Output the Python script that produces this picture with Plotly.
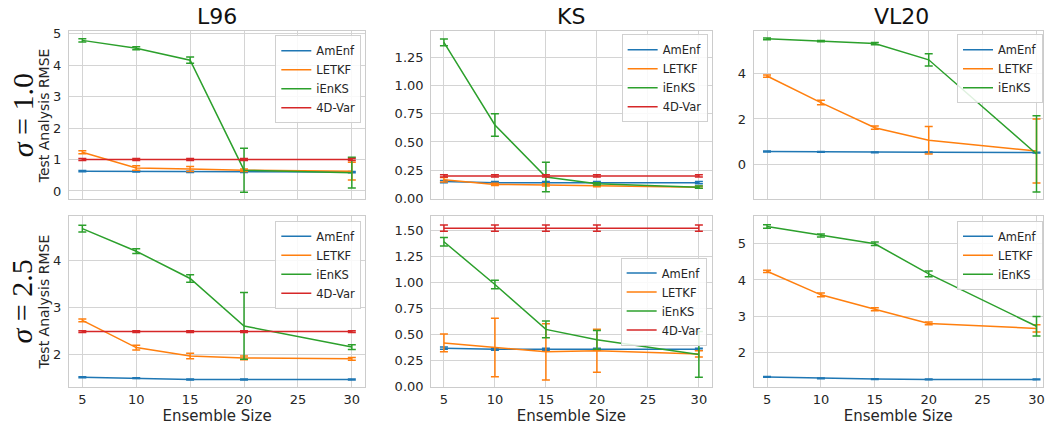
import plotly.graph_objects as go

ens = [5, 10, 15, 20, 30]
methods = ["AmEnf", "LETKF", "iEnKS", "4D-Var"]
colors = {"AmEnf": "#1f77b4", "LETKF": "#ff7f0e", "iEnKS": "#2ca02c", "4D-Var": "#d62728"}
systems = ["L96", "KS", "VL20"]
sigmas = ["1.0", "2.5"]

# ---- sigma = 1.0 ----
l96_s1_mean = {"AmEnf": [0.63, 0.62, 0.61, 0.61, 0.60],
               "LETKF": [1.23, 0.73, 0.70, 0.66, 0.63],
               "iEnKS": [4.79, 4.54, 4.16, 0.66, 0.58],
               "4D-Var": [1.00, 1.00, 1.00, 1.00, 1.00]}
l96_s1_err = {"AmEnf": [0.02, 0.02, 0.02, 0.02, 0.02],
              "LETKF": [0.05, 0.07, 0.08, 0.04, 0.28],
              "iEnKS": [0.05, 0.05, 0.10, 0.70, 0.49],
              "4D-Var": [0.03, 0.03, 0.03, 0.03, 0.03]}
ks_s1_mean = {"AmEnf": [0.15, 0.14, 0.14, 0.14, 0.14],
              "LETKF": [0.165, 0.125, 0.12, 0.115, 0.10],
              "iEnKS": [1.38, 0.65, 0.19, 0.13, 0.10],
              "4D-Var": [0.20, 0.20, 0.20, 0.20, 0.20]}
ks_s1_err = {"AmEnf": [0.01, 0.01, 0.01, 0.01, 0.01],
             "LETKF": [0.02, 0.01, 0.01, 0.01, 0.01],
             "iEnKS": [0.03, 0.10, 0.13, 0.01, 0.01],
             "4D-Var": [0.01, 0.01, 0.01, 0.01, 0.01]}
vl_s1_mean = {"AmEnf": [0.58, 0.56, 0.54, 0.54, 0.53],
              "LETKF": [3.88, 2.72, 1.62, 1.07, 0.60],
              "iEnKS": [5.51, 5.41, 5.30, 4.59, 0.47]}
vl_s1_err = {"AmEnf": [0.02, 0.02, 0.02, 0.02, 0.02],
             "LETKF": [0.05, 0.10, 0.07, 0.60, 1.40],
             "iEnKS": [0.04, 0.03, 0.05, 0.27, 1.67]}

# ---- sigma = 2.5 ----
l96_s2_mean = {"AmEnf": [1.51, 1.49, 1.46, 1.46, 1.46],
               "LETKF": [2.72, 2.14, 1.96, 1.92, 1.90],
               "iEnKS": [4.67, 4.19, 3.61, 2.60, 2.15],
               "4D-Var": [2.48, 2.48, 2.48, 2.48, 2.48]}
l96_s2_err = {"AmEnf": [0.01, 0.01, 0.01, 0.01, 0.01],
              "LETKF": [0.03, 0.05, 0.06, 0.04, 0.03],
              "iEnKS": [0.07, 0.05, 0.08, 0.71, 0.05],
              "4D-Var": [0.02, 0.02, 0.02, 0.02, 0.02]}
ks_s2_mean = {"AmEnf": [0.37, 0.36, 0.36, 0.36, 0.36],
              "LETKF": [0.42, 0.376, 0.335, 0.345, 0.314],
              "iEnKS": [1.39, 0.98, 0.55, 0.45, 0.31],
              "4D-Var": [1.52, 1.52, 1.52, 1.52, 1.52]}
ks_s2_err = {"AmEnf": [0.01, 0.01, 0.01, 0.01, 0.01],
             "LETKF": [0.085, 0.28, 0.27, 0.205, 0.03],
             "iEnKS": [0.04, 0.04, 0.08, 0.09, 0.22],
             "4D-Var": [0.03, 0.03, 0.03, 0.03, 0.03]}
vl_s2_mean = {"AmEnf": [1.32, 1.28, 1.26, 1.25, 1.25],
              "LETKF": [4.24, 3.59, 3.19, 2.80, 2.66],
              "iEnKS": [5.48, 5.23, 5.00, 4.17, 2.72]}
vl_s2_err = {"AmEnf": [0.01, 0.01, 0.01, 0.01, 0.01],
             "LETKF": [0.03, 0.05, 0.04, 0.04, 0.10],
             "iEnKS": [0.05, 0.04, 0.05, 0.08, 0.27]}

panels = [
    (l96_s1_mean, l96_s1_err), (ks_s1_mean, ks_s1_err), (vl_s1_mean, vl_s1_err),
    (l96_s2_mean, l96_s2_err), (ks_s2_mean, ks_s2_err), (vl_s2_mean, vl_s2_err),
]

W, H = 1045, 431
def px(x):
    return x / W
def py(y):
    return 1 - y / H

col_dom = [[px(69), px(366)], [px(432), px(713)], [px(755), 1.0]]
col_xrange = [[3.75, 31.25], [3.75, 31.25], [3.75, 3.75 + (1045 - 755) / 10.8]]
row_dom = [[py(200), py(27)], [py(393), py(217)]]
yranges = [[-0.27, 5.08], [-0.008, 1.478], [-1.52, 5.84],
           [1.30, 4.94], [-0.003, 1.637], [1.04, 5.77]]
yticks = [[0, 1, 2, 3, 4, 5], [0, 0.25, 0.5, 0.75, 1.0, 1.25], [0, 2, 4],
          [2, 3, 4], [0, 0.25, 0.5, 0.75, 1.0, 1.25, 1.5], [2, 3, 4, 5]]
ytickfmt = ["d", ".2f", "d", "d", ".2f", "d"]
legend_pos = [(362, 31, "top"), (709, 30, "top"), (1045, 30, "top"),
              (362, 222, "top"), (708, 305, "middle"), (1045, 222, "top")]

fig = go.Figure()
grid = "#d4d4d4"
frame = "#cccccc"
font = "DejaVu Sans"

for i, (means, errs) in enumerate(panels):
    r, c = divmod(i, 3)
    n = i + 1
    xa = "x" if n == 1 else f"x{n}"
    ya = "y" if n == 1 else f"y{n}"
    lg = "legend" if n == 1 else f"legend{n}"
    for m in methods:
        if m not in means:
            continue
        fig.add_trace(go.Scatter(
            x=ens, y=means[m], mode="lines", name=m,
            line=dict(color=colors[m], width=1.5),
            error_y=dict(type="data", array=errs[m], visible=True,
                         color=colors[m], thickness=1.5, width=4),
            xaxis=xa, yaxis=ya, legend=lg, showlegend=True))
    axkey = "" if n == 1 else str(n)
    fig.layout["xaxis" + axkey] = dict(
        domain=col_dom[c], range=col_xrange[c], anchor=ya,
        tickvals=[5, 10, 15, 20, 25, 30], showticklabels=(r == 1),
        ticklabeloverflow="allow",
        showgrid=True, gridcolor=grid, gridwidth=1, zeroline=False,
        showline=True, mirror=True, linecolor=frame, linewidth=1,
        ticks="", tickfont=dict(size=13, color="#262626", family=font),
        title=dict(text="Ensemble Size" if r == 1 else "",
                   font=dict(size=15, color="#262626", family=font), standoff=2))
    fig.layout["yaxis" + axkey] = dict(
        domain=row_dom[r], range=yranges[i], anchor=xa,
        tickvals=yticks[i], tickformat=ytickfmt[i],
        showgrid=True, gridcolor=grid, gridwidth=1, zeroline=False,
        showline=True, mirror=True, linecolor=frame, linewidth=1,
        ticks="", ticklabelstandoff=4,
        tickfont=dict(size=13, color="#262626", family=font))
    lx, lyy, anc = legend_pos[i]
    fig.layout[lg] = dict(
        x=px(lx), y=py(lyy), xanchor="right", yanchor=anc,
        bgcolor="rgba(255,255,255,0.85)", bordercolor="#d0d0d0", borderwidth=1,
        font=dict(size=11.5, color="#262626", family=font),
        tracegroupgap=0, itemwidth=30)

annotations = []
centers = [(69 + 366) / 2, (432 + 713) / 2, (755 + 1051) / 2]
for c, s in enumerate(systems):
    annotations.append(dict(text=s, x=px(centers[c]), y=py(12), xref="paper", yref="paper",
                            showarrow=False, xanchor="center", yanchor="middle",
                            font=dict(size=22, color="#111111", family=font)))
row_centers = [(27 + 200) / 2, (217 + 393) / 2]
for r, s in enumerate(sigmas):
    annotations.append(dict(text=f"<i>σ</i> = {s}", x=px(22), y=py(row_centers[r]),
                            xref="paper", yref="paper", showarrow=False, textangle=-90,
                            xanchor="center", yanchor="middle",
                            font=dict(size=30, color="#111111", family="Liberation Serif")))
    annotations.append(dict(text="Test Analysis RMSE", x=px(44), y=py(row_centers[r]),
                            xref="paper", yref="paper", showarrow=False, textangle=-90,
                            xanchor="center", yanchor="middle",
                            font=dict(size=14, color="#262626", family=font)))

fig.update_layout(width=W, height=H, margin=dict(l=0, r=0, t=0, b=0),
                  paper_bgcolor="white", plot_bgcolor="white",
                  annotations=annotations, font=dict(family=font))

fig.write_html("out.html", config={"displayModeBar": False},
               post_script="document.body.style.margin='0';document.body.style.overflow='hidden';")
